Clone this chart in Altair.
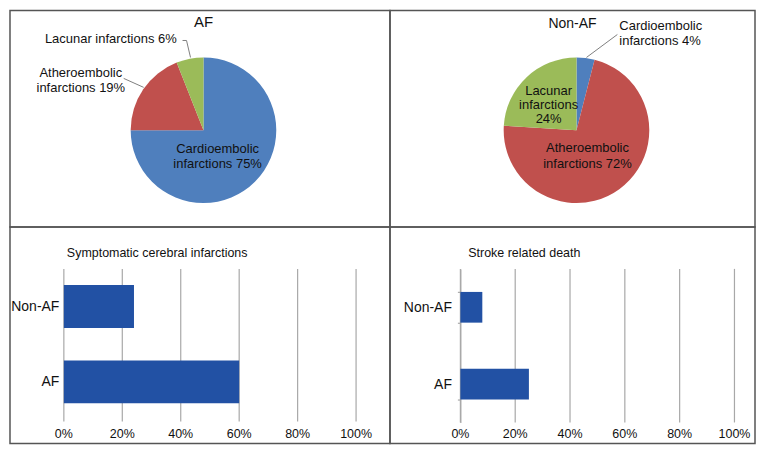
import altair as alt
import pandas as pd

# ---------------- data ----------------
pie_categories = ["Cardioembolic", "Atheroembolic", "Lacunar"]
pie_colors = ["#4F7FBD", "#C0504D", "#9BBB59"]
af_values = [75, 19, 6]
nonaf_values = [4, 72, 24]
af_labels = ["Cardioembolic\ninfarctions 75%", "Atheroembolic\ninfarctions 19%", "Lacunar infarctions 6%"]
nonaf_labels = ["Cardioembolic\ninfarctions 4%", "Atheroembolic\ninfarctions 72%", "Lacunar\ninfarctions\n24%"]

groups = ["Non-AF", "AF"]
symptomatic_values = [24, 60]
death_values = [8, 25]
tick_values = [0, 20, 40, 60, 80, 100]

FONT = "Liberation Sans"
TXT = "#111111"
LW, RW = 381, 366
TH, BH = 217, 217
ONE = alt.Data(values=[{}])


def text_at(txt, x, y, size, align="center"):
    return alt.Chart(ONE).mark_text(text=txt, fontSize=size, font=FONT, color=TXT,
                                    align=align, baseline="middle").encode(
        x=alt.value(x), y=alt.value(y))


def leader(x1, y1, x2, y2):
    return alt.Chart(ONE).mark_rule(color="#808080", strokeWidth=1).encode(
        x=alt.value(x1), y=alt.value(y1), x2=alt.value(x2), y2=alt.value(y2))


def pie_panel(values, labels, title, tpos, tsize, center, specs, leaders, width):
    df = pd.DataFrame({"cat": pie_categories, "value": values, "label": labels,
                       "idx": list(range(len(values)))})
    cx, cy = center
    base = alt.Chart(df)
    arc = base.mark_arc(radius=73).encode(
        theta=alt.Theta("value:Q", stack=True),
        order=alt.Order("idx:Q"),
        color=alt.Color("cat:N", scale=alt.Scale(domain=pie_categories, range=pie_colors), legend=None),
        x=alt.value(cx), y=alt.value(cy))
    layers = [arc]
    for cat, r, dx, dy, align, lh, nlines in specs:
        layers.append(base.mark_text(radius=r, dx=dx, dy=dy - (nlines - 1) * lh / 2, align=align,
                                     baseline="middle", lineBreak="\n", lineHeight=lh,
                                     fontSize=13, font=FONT, color=TXT).encode(
            theta=alt.Theta("value:Q", stack=True),
            order=alt.Order("idx:Q"),
            x=alt.value(cx), y=alt.value(cy),
            text=alt.condition(alt.datum.cat == cat, alt.Text("label:N"), alt.value(""))))
    for seg in leaders:
        layers.append(leader(*seg))
    layers.append(text_at(title, tpos[0], tpos[1], tsize))
    return alt.layer(*layers).properties(width=width, height=TH)


def bar_panel(values, title, title_x, xrange, yrange, grid_bottom, pad, width, yaxis):
    df = pd.DataFrame({"group": groups, "value": values})
    ticks_df = pd.DataFrame({"tick": tick_values})
    xscale = alt.Scale(domain=[0, 100], range=list(xrange))
    grid = alt.Chart(ticks_df).mark_rule(
        color="#A8A8A8", strokeWidth=1.2).encode(
        x=alt.X("tick:Q", scale=xscale, axis=None),
        y=alt.value(yrange[0]), y2=alt.value(grid_bottom))
    tick_labels = alt.Chart(ticks_df).transform_calculate(
        lab="datum.tick + '%'").mark_text(fontSize=12.5, font=FONT, color=TXT,
                                          baseline="middle").encode(
        x=alt.X("tick:Q", scale=xscale, axis=None),
        y=alt.value(208),
        text=alt.Text("lab:N"))
    bars = alt.Chart(df).mark_bar(color="#2251A4").encode(
        x=alt.X("value:Q", scale=xscale, axis=None),
        y=alt.Y("group:N", sort=groups,
                scale=alt.Scale(domain=groups, range=list(yrange), paddingInner=pad, paddingOuter=pad / 2),
                axis=yaxis))
    return alt.layer(grid, bars, tick_labels,
                     text_at(title, title_x, 26, 12.5, align="left")).properties(
        width=width, height=BH)


pie_af = pie_panel(
    af_values, af_labels, "AF", (194, 11), 15, (194, 120),
    [("Cardioembolic", 20, 0, 12, "center", 15.5, 2),
     ("Atheroembolic", 85, -52.7, -2, "center", 14.5, 2),
     ("Lacunar", 90, -10, -2.6, "right", 14, 1)],
    [(173, 30, 177, 30), (177, 30, 181, 47), (114, 68, 134, 77)],
    LW)

pie_non = pie_panel(
    nonaf_values, nonaf_labels, "Non-AF", (183, 13), 14, (187, 120),
    [("Cardioembolic", 98, 30.7, 0, "left", 14.5, 2),
     ("Atheroembolic", 30, -6.6, 1.7, "center", 16, 2),
     ("Lacunar", 35, -4, 0.5, "center", 14, 3)],
    [(228, 24, 197, 47)],
    RW)

yaxis_left = alt.Axis(orient="left", offset=-54, ticks=False, domain=False, labelPadding=5,
                      labelFontSize=14, labelColor=TXT, labelFont=FONT, title=None)
yaxis_right = alt.Axis(orient="left", offset=-70.6, ticks=True, tickSize=3, tickBand="extent",
                       tickColor="#999999", domain=True, domainColor="#999999", labelPadding=6,
                       labelFontSize=14, labelColor=TXT, labelFont=FONT, title=None)

bar_sym = bar_panel(symptomatic_values, "Symptomatic cerebral infarctions", 57,
                    (54, 347), (42, 193), 195, 0.43, LW, yaxis_left)
bar_death = bar_panel(death_values, "Stroke related death", 78.5,
                      (70.6, 345.4), (42, 196), 196, 0.6, RW, yaxis_right)

chart = alt.concat(pie_af, pie_non, bar_sym, bar_death, columns=2, spacing=0, bounds="flush").properties(
    padding={"left": 1, "top": 1, "right": 1, "bottom": 1},
    background="white",
).configure(font=FONT).configure_view(stroke="#555555", strokeWidth=1.5)

chart.save("out.html", embed_options={"renderer": "svg", "actions": False})
